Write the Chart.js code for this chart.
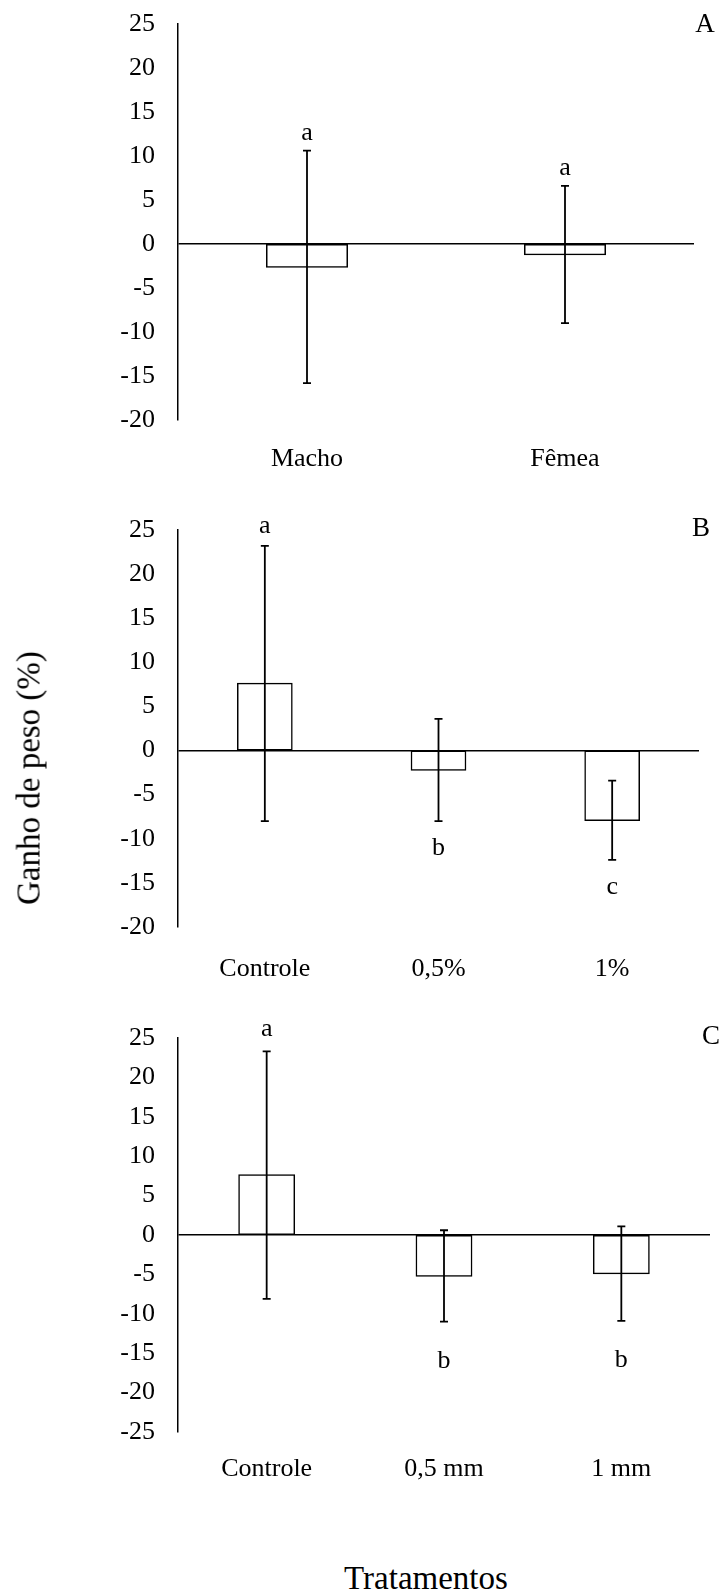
<!DOCTYPE html>
<html>
<head>
<meta charset="utf-8">
<title>Ganho de peso (%)</title>
<script src="https://cdn.jsdelivr.net/npm/chart.js@4.4.1/dist/chart.umd.min.js"></script>
<style>
  body { margin: 0; background: #fff; }
  #page {
    position: relative;
    width: 722px;
    height: 1593px;
    font-family: "Liberation Serif", "Times New Roman", serif;
    color: #000;
    overflow: hidden;
  }
  canvas { position: absolute; left: 0; }
  .tag, .title {
    position: absolute;
    line-height: 1;
    white-space: nowrap;
    transform: translate(-50%, -50%);
  }
  .tag { font-size: 27px; }
  .title { font-size: 33px; }
  #y-title { transform: translate(-50%, -50%) rotate(-90deg); }
</style>
</head>
<body>
<div id="page">
  <canvas id="panel-a" width="722" height="480" style="top:0px"></canvas>
  <canvas id="panel-b" width="722" height="490" style="top:490px"></canvas>
  <canvas id="panel-c" width="722" height="500" style="top:990px"></canvas>
  <div class="tag" style="left:705px; top:23px">A</div>
  <div class="tag" style="left:701px; top:527px">B</div>
  <div class="tag" style="left:711px; top:1035px">C</div>
  <div class="title" id="y-title" style="left:29px; top:778px">Ganho de peso (%)</div>
  <div class="title" style="left:426px; top:1578px">Tratamentos</div>
</div>
<script>
  const FONT = '"Liberation Serif", "Times New Roman", serif';

  // A - sexo
  const sexCategories = ["Macho", "Fêmea"];
  const sexMeans = [-2.6, -1.2];
  const sexErrors = [13.2, 7.8];
  const sexLetters = ["a", "a"];
  const sexLetterSide = ["up", "up"];

  // B - concentração
  const doseCategories = ["Controle", "0,5%", "1%"];
  const doseMeans = [7.6, -2.2, -7.9];
  const doseErrors = [15.6, 5.8, 4.5];
  const doseLetters = ["a", "b", "c"];
  const doseLetterSide = ["up", "down", "down"];

  // C - granulometria
  const sizeCategories = ["Controle", "0,5 mm", "1 mm"];
  const sizeMeans = [7.6, -5.2, -4.9];
  const sizeErrors = [15.7, 5.8, 6.0];
  const sizeLetters = ["a", "b", "b"];
  const sizeLetterSide = ["up", "down", "down"];

  const abRange = [-20, 25];
  const cRange = [-25, 25];
  const tickStep = 5;

  Chart.defaults.font.family = FONT;
  Chart.defaults.color = "#000";

  // error bars + significance letters, drawn over the bars
  const errorBars = {
    id: "errorBars",
    afterDatasetsDraw(chart, args, opts) {
      const ctx = chart.ctx;
      const y = chart.scales.y;
      const meta = chart.getDatasetMeta(0);
      ctx.save();
      ctx.strokeStyle = "#000";
      ctx.fillStyle = "#000";
      ctx.lineWidth = 1.8;
      ctx.font = "26px " + FONT;
      ctx.textAlign = "center";
      ctx.textBaseline = "alphabetic";
      meta.data.forEach((bar, i) => {
        const top = y.getPixelForValue(opts.means[i] + opts.errors[i]);
        const bot = y.getPixelForValue(opts.means[i] - opts.errors[i]);
        ctx.beginPath();
        ctx.moveTo(bar.x, top);
        ctx.lineTo(bar.x, bot);
        ctx.moveTo(bar.x - 4, top);
        ctx.lineTo(bar.x + 4, top);
        ctx.moveTo(bar.x - 4, bot);
        ctx.lineTo(bar.x + 4, bot);
        ctx.stroke();
        const ly = opts.sides[i] === "up" ? top - opts.gapUp : bot + opts.gapDown;
        ctx.fillText(opts.letters[i], bar.x, ly);
      });
      ctx.restore();
    },
  };

  function makePanel(id, p) {
    new Chart(document.getElementById(id), {
      type: "bar",
      data: {
        labels: p.labels,
        datasets: [{
          data: p.means,
          backgroundColor: "#fff",
          borderColor: "#000",
          borderWidth: 1.5,
          borderSkipped: false,
          inflateAmount: 0.75,
          barPercentage: 0.312,
          categoryPercentage: 1,
        }],
      },
      options: {
        responsive: false,
        animation: false,
        layout: { padding: { top: p.padTop, right: p.padRight, bottom: 0, left: 0 } },
        plugins: {
          legend: { display: false },
          tooltip: { enabled: false },
          errorBars: {
            means: p.means,
            errors: p.errors,
            letters: p.letters,
            sides: p.sides,
            gapUp: p.gapUp,
            gapDown: p.gapDown,
          },
        },
        scales: {
          x: {
            grid: { display: false },
            border: { display: false },
            ticks: { font: { size: 26 }, padding: p.labelPad, maxRotation: 0 },
            afterFit: (s) => { s.height = p.xAxisHeight; },
          },
          y: {
            min: p.range[0],
            max: p.range[1],
            grid: {
              drawTicks: false,
              lineWidth: 1.5,
              color: (c) => (c.tick && c.tick.value === 0 ? "#000" : "rgba(0,0,0,0)"),
            },
            border: { display: true, color: "#000", width: 1.5 },
            ticks: {
              stepSize: tickStep,
              font: { size: 26 },
              padding: 23,
              callback: (v) => String(v),
            },
            afterFit: (s) => {
              s.width = 178;
              s.paddingTop = 0;
              s.paddingBottom = 0;
            },
          },
        },
      },
      plugins: [errorBars],
    });
  }

  makePanel("panel-a", {
    labels: sexCategories, means: sexMeans, errors: sexErrors,
    letters: sexLetters, sides: sexLetterSide, range: abRange,
    padTop: 24, padRight: 28, xAxisHeight: 60, labelPad: 16, gapUp: 11, gapDown: 30,
  });
  makePanel("panel-b", {
    labels: doseCategories, means: doseMeans, errors: doseErrors,
    letters: doseLetters, sides: doseLetterSide, range: abRange,
    padTop: 40, padRight: 23, xAxisHeight: 53, labelPad: 19, gapUp: 13, gapDown: 34,
  });
  makePanel("panel-c", {
    labels: sizeCategories, means: sizeMeans, errors: sizeErrors,
    letters: sizeLetters, sides: sizeLetterSide, range: cRange,
    padTop: 48, padRight: 12, xAxisHeight: 58, labelPad: 14, gapUp: 15, gapDown: 46,
  });
</script>
</body>
</html>
